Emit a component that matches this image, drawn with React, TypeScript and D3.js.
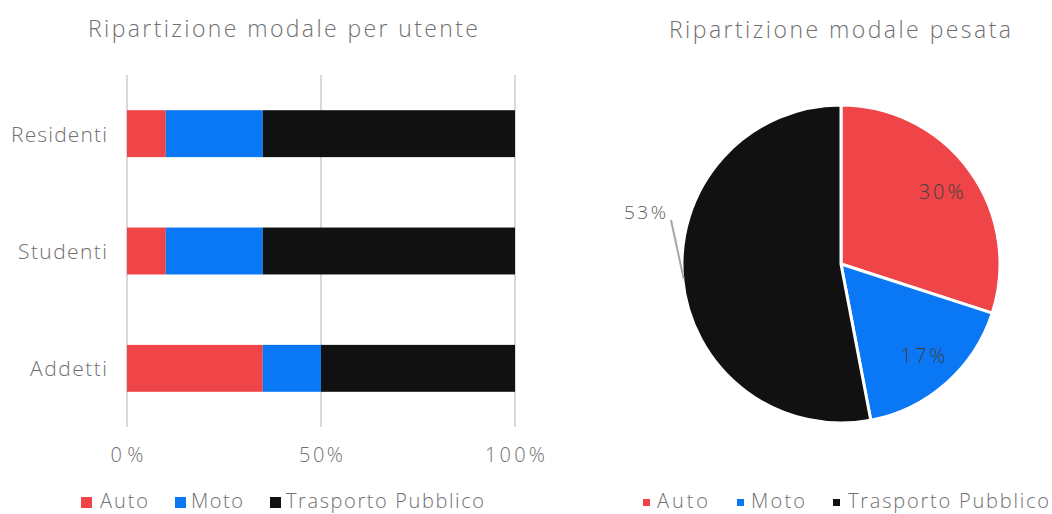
import React from "react";
import * as d3 from "d3";

const categories = ["Residenti", "Studenti", "Addetti"];
const seriesNames = ["Auto", "Moto", "Trasporto Pubblico"];
const autoValues = [10, 10, 35];
const motoValues = [25, 25, 15];
const tpValues = [65, 65, 50];
const xTicks = [0, 50, 100];
const pieValues = [30, 17, 53];
const colors = ["#EF4548", "#0A77F5", "#111111"];

const FONT = "'Open Sans', sans-serif";
const GRAY = "#707070";

// rendered widths of the reference's wide geometric typeface
const catWidth: Record<string, number> = { Residenti: 96, Studenti: 89, Addetti: 77 };
const tickWidth: Record<number, number> = { 0: 33, 50: 44, 100: 60 };
const legBarWidth = [48, 52, 198];
const legPieWidth = [51, 54, 201];

export default function App() {
  const x = d3.scaleLinear().domain([0, 100]).range([127, 515]);
  const y = d3.scaleBand().domain(categories).range([75, 427]).paddingInner(0.6).paddingOuter(0.3);
  const stackData = categories.map((c, i) => ({ cat: c, Auto: autoValues[i], Moto: motoValues[i], "Trasporto Pubblico": tpValues[i] }));
  const stacked = d3.stack<any>().keys(seriesNames)(stackData);

  const cx = 841, cy = 264, r = 159;
  const pie = d3.pie<number>().sort(null).value((d) => d)(pieValues);
  const arc = d3.arc<any>().innerRadius(0).outerRadius(r);
  const labelArc = d3.arc<any>().innerRadius(r * 1.55).outerRadius(0);

  const legendBar = [
    { sx: 81, tx: 100 },
    { sx: 175, tx: 191 },
    { sx: 270, tx: 286 },
  ];
  const legendPie = [
    { sx: 643, tx: 657 },
    { sx: 737, tx: 751 },
    { sx: 833, tx: 848 },
  ];

  const tp = pie[2];
  const midA = (tp.startAngle + tp.endAngle) / 2;
  const p1 = [cx + Math.sin(midA) * (r - 1), cy - Math.cos(midA) * (r - 1)];

  return (
    <svg width={1052} height={514} style={{ display: "block", position: "absolute", left: 0, top: 0 }} fontFamily={FONT} fontWeight={300}>
      <rect width={1052} height={514} fill="#fff" />
      <text x={88} y={37} fontSize={23} fill={GRAY} textLength={390} lengthAdjust="spacing">Ripartizione modale per utente</text>
      {xTicks.map((t) => (
        <g key={t}>
          <line x1={x(t)} x2={x(t)} y1={75} y2={427} stroke="#d9d9d9" strokeWidth={2} />
          <text x={x(t) - tickWidth[t] / 2} y={462} fontSize={20} fill={GRAY} textLength={tickWidth[t]} lengthAdjust="spacing">{t}%</text>
        </g>
      ))}
      {stacked.map((s, si) =>
        s.map((d, i) => (
          <rect key={si + "-" + i} x={x(d[0])} width={x(d[1]) - x(d[0])} y={y(categories[i])!} height={y.bandwidth()} fill={colors[si]} />
        ))
      )}
      {categories.map((c) => (
        <text key={c} x={107 - catWidth[c]} y={y(c)! + y.bandwidth() / 2 + 8} fontSize={21} fill={GRAY} textLength={catWidth[c]} lengthAdjust="spacing">{c}</text>
      ))}
      {seriesNames.map((n, i) => (
        <g key={n}>
          <rect x={legendBar[i].sx} y={497} width={11} height={11} fill={colors[i]} />
          <text x={legendBar[i].tx} y={508} fontSize={20} fill={GRAY} textLength={legBarWidth[i]} lengthAdjust="spacing">{n}</text>
        </g>
      ))}

      <text x={669} y={38} fontSize={23} fill={GRAY} textLength={342} lengthAdjust="spacing">Ripartizione modale pesata</text>
      <g transform={`translate(${cx},${cy})`}>
        {pie.map((p, i) => (
          <path key={i} d={arc(p)!} fill={colors[i]} stroke="#fff" strokeWidth={3} />
        ))}
        {pie.slice(0, 2).map((p, i) => {
          const c = labelArc.centroid(p);
          return (
            <text key={i} x={c[0] - 22} y={c[1] + 7} fontSize={20} fill="#404040" textLength={45} lengthAdjust="spacing">{pieValues[i]}%</text>
          );
        })}
      </g>
      <line x1={p1[0]} y1={p1[1]} x2={671} y2={220} stroke="#a6a6a6" strokeWidth={2} />
      <text x={624} y={219} fontSize={19} fill="#595959" textLength={42} lengthAdjust="spacing">{pieValues[2]}%</text>
      {seriesNames.map((n, i) => (
        <g key={"p" + n}>
          <rect x={legendPie[i].sx} y={499} width={7} height={7} fill={colors[i]} />
          <text x={legendPie[i].tx} y={508} fontSize={20} fill={GRAY} textLength={legPieWidth[i]} lengthAdjust="spacing">{n}</text>
        </g>
      ))}
    </svg>
  );
}
